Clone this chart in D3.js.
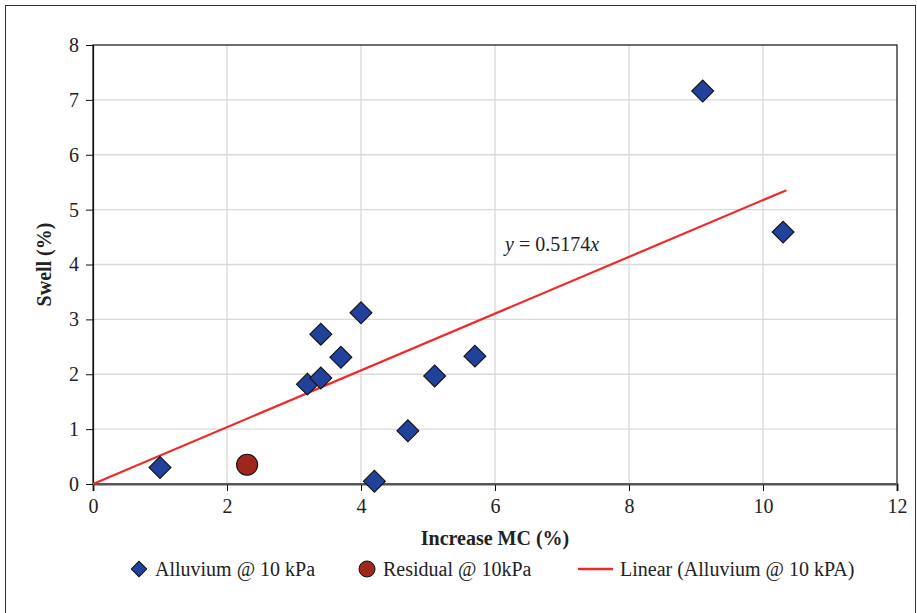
<!DOCTYPE html>
<html>
<head>
<meta charset="utf-8">
<script src="https://cdn.jsdelivr.net/npm/d3@7"></script>
<style>
  body { margin: 0; background: #fff; }
  svg text { font-family: "Liberation Serif", "DejaVu Serif", serif; fill: #222; }
</style>
</head>
<body>
<svg id="chart" width="917" height="613"></svg>
<script>
// alluvium points (Increase MC %, Swell %)
const alluviumX = [1.0, 3.2, 3.4, 3.4, 3.7, 4.0, 4.2, 4.7, 5.1, 5.7, 9.1, 10.3];
const alluviumY = [0.3, 1.82, 1.93, 2.73, 2.31, 3.12, 0.05, 0.97, 1.97, 2.33, 7.16, 4.59];
// residual point
const residualX = [2.3];
const residualY = [0.35];
// linear trend through origin
const slope = 0.5174;
const trendRange = [0, 10.35];
const xTicks = [0, 2, 4, 6, 8, 10, 12];
const yTicks = [0, 1, 2, 3, 4, 5, 6, 7, 8];

const svg = d3.select("#chart");
const m = {left: 93, right: 897, top: 45, bottom: 484};
const fs = "20px";

// outer frame
svg.append("rect")
  .attr("x", 5.5).attr("y", 5.5)
  .attr("width", 910).attr("height", 620)
  .attr("fill", "none").attr("stroke", "#333").attr("stroke-width", 1);

const x = d3.scaleLinear().domain([0, 12]).range([m.left, m.right]);
const y = d3.scaleLinear().domain([0, 8]).range([m.bottom, m.top]);

// gridlines
svg.append("g").selectAll("line.gx")
  .data(xTicks.slice(1, -1))
  .enter().append("line")
  .attr("x1", d => x(d)).attr("x2", d => x(d))
  .attr("y1", m.top).attr("y2", m.bottom)
  .attr("stroke", "#d9d9d9").attr("stroke-width", 1.3);
svg.append("g").selectAll("line.gy")
  .data(yTicks.slice(1, -1))
  .enter().append("line")
  .attr("x1", m.left).attr("x2", m.right)
  .attr("y1", d => y(d)).attr("y2", d => y(d))
  .attr("stroke", "#d9d9d9").attr("stroke-width", 1.3);

// plot border
svg.append("rect")
  .attr("x", m.left).attr("y", m.top)
  .attr("width", m.right - m.left).attr("height", m.bottom - m.top)
  .attr("fill", "none").attr("stroke", "#111").attr("stroke-width", 1.2);

// axes
const xAxis = svg.append("g")
  .attr("transform", "translate(0," + m.bottom + ")")
  .call(d3.axisBottom(x).tickValues(xTicks).tickSize(7).tickPadding(8));
xAxis.select(".domain").attr("stroke", "#555").attr("stroke-width", 2.2);
xAxis.selectAll(".tick line").attr("stroke", "#111");
xAxis.selectAll("text").style("font-size", fs).attr("fill", "#222");

const yAxis = svg.append("g")
  .attr("transform", "translate(" + m.left + ",0)")
  .call(d3.axisLeft(y).tickValues(yTicks).tickSize(7).tickPadding(7));
yAxis.select(".domain").attr("stroke", "#111").attr("stroke-width", 1.2);
yAxis.selectAll(".tick line").attr("stroke", "#111");
yAxis.selectAll("text").style("font-size", fs).attr("fill", "#222");

// redraw x axis line on top
svg.append("line")
  .attr("x1", m.left).attr("x2", m.right)
  .attr("y1", m.bottom).attr("y2", m.bottom)
  .attr("stroke", "#555").attr("stroke-width", 2.2);

// axis titles
svg.append("text")
  .attr("x", (m.left + m.right) / 2).attr("y", 545)
  .attr("text-anchor", "middle")
  .style("font-size", fs).style("font-weight", "bold")
  .text("Increase MC (%)");
svg.append("text")
  .attr("transform", "translate(51," + ((m.top + m.bottom) / 2) + ") rotate(-90)")
  .attr("text-anchor", "middle")
  .style("font-size", fs).style("font-weight", "bold")
  .text("Swell (%)");

// trend line
svg.append("line")
  .attr("x1", x(trendRange[0])).attr("y1", y(slope * trendRange[0]))
  .attr("x2", x(trendRange[1])).attr("y2", y(slope * trendRange[1]))
  .attr("stroke", "#ee2a2a").attr("stroke-width", 2.2);

// equation
const eq = svg.append("text")
  .attr("x", 505).attr("y", 251)
  .style("font-size", fs);
eq.append("tspan").style("font-style", "italic").text("y");
eq.append("tspan").text(" = 0.5174");
eq.append("tspan").style("font-style", "italic").text("x");

const diamond = d3.symbol().type(d3.symbolSquare).size(240);

// alluvium
svg.append("g").selectAll("path")
  .data(alluviumX.map((d, i) => [d, alluviumY[i]]))
  .enter().append("path")
  .attr("d", diamond)
  .attr("transform", d => "translate(" + x(d[0]) + "," + y(d[1]) + ") rotate(45)")
  .attr("fill", "#22419a").attr("stroke", "#111").attr("stroke-width", 1.1);

// residual
svg.append("g").selectAll("circle")
  .data(residualX.map((d, i) => [d, residualY[i]]))
  .enter().append("circle")
  .attr("cx", d => x(d[0])).attr("cy", d => y(d[1]))
  .attr("r", 10.5)
  .attr("fill", "#a0261b").attr("stroke", "#111").attr("stroke-width", 1.1);

// legend
const ly = 569;
const lg = svg.append("g");
lg.append("path")
  .attr("d", d3.symbol().type(d3.symbolSquare).size(120))
  .attr("transform", "translate(139," + ly + ") rotate(45)")
  .attr("fill", "#22419a").attr("stroke", "#111").attr("stroke-width", 1);
lg.append("text").attr("x", 155).attr("y", ly + 7).style("font-size", fs)
  .text("Alluvium @ 10 kPa");
lg.append("circle").attr("cx", 367).attr("cy", ly).attr("r", 8)
  .attr("fill", "#a0261b").attr("stroke", "#111").attr("stroke-width", 1);
lg.append("text").attr("x", 383).attr("y", ly + 7).style("font-size", fs)
  .text("Residual @ 10kPa");
lg.append("line").attr("x1", 578).attr("x2", 613).attr("y1", ly).attr("y2", ly)
  .attr("stroke", "#ee2a2a").attr("stroke-width", 2.5);
lg.append("text").attr("x", 620).attr("y", ly + 7).style("font-size", fs)
  .text("Linear (Alluvium @ 10 kPA)");
</script>
</body>
</html>
